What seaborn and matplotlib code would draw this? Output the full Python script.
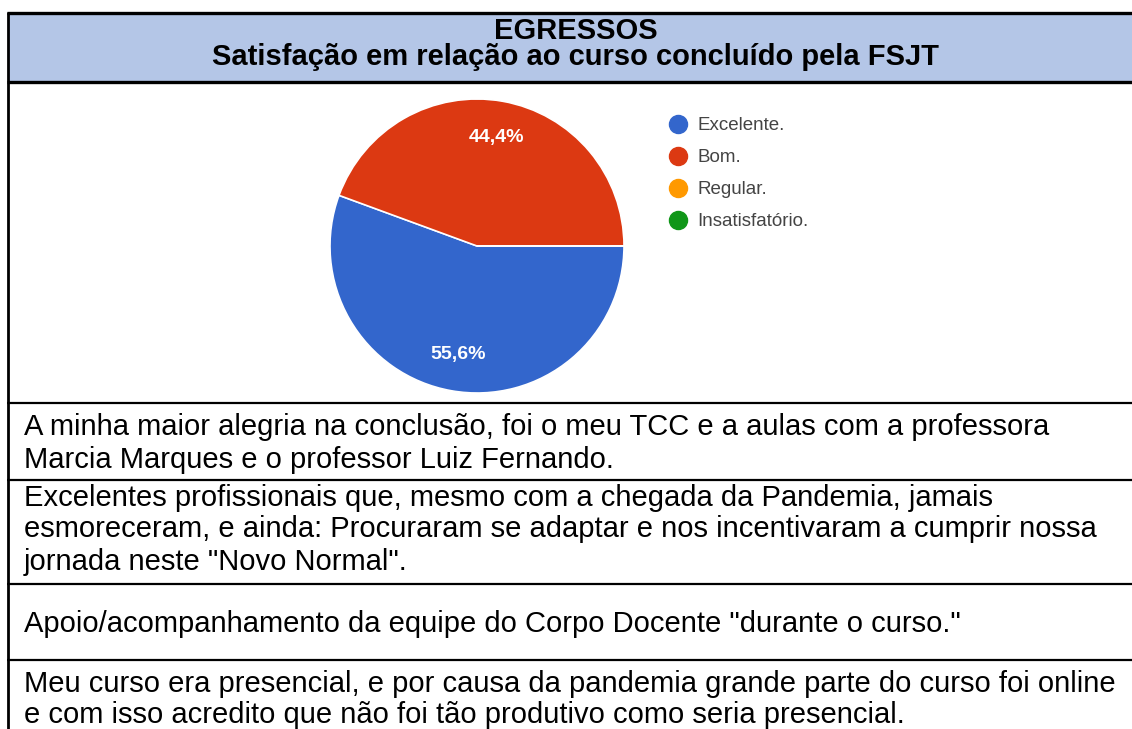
import matplotlib
matplotlib.use("Agg")
import matplotlib.pyplot as plt
from matplotlib.lines import Line2D
import seaborn as sns

# ------------------------------------------------------------
# DATA
# ------------------------------------------------------------

categories = ["Excelente.", "Bom.", "Regular.", "Insatisfatório."]
values = [55.6, 44.4, 0.0, 0.0]

header_title = "EGRESSOS"
header_subtitle = "Satisfação em relação ao curso concluído pela FSJT"

comments = [
    ["A minha maior alegria na conclusão, foi o meu TCC e a aulas com a professora",
     "Marcia Marques e o professor Luiz Fernando."],
    ["Excelentes profissionais que, mesmo com a chegada da Pandemia, jamais",
     "esmoreceram, e ainda: Procuraram se adaptar e nos incentivaram a cumprir nossa",
     "jornada neste \"Novo Normal\"."],
    ["Apoio/acompanhamento da equipe do Corpo Docente \"durante o curso.\""],
    ["Meu curso era presencial, e por causa da pandemia grande parte do curso foi online",
     "e com isso acredito que não foi tão produtivo como seria presencial."],
]

# ------------------------------------------------------------
# STYLE
# ------------------------------------------------------------

sns.set_theme(style="white")
plt.rcParams["font.family"] = ["Liberation Sans", "DejaVu Sans"]

palette = sns.color_palette(["#3366cc", "#dc3912", "#ff9900", "#109618"])

W, H = 1132, 729
fig = plt.figure(figsize=(W / 100, H / 100), dpi=100)

# ------------------------------------------------------------
# TABLE FRAME (pixel coordinates)
# ------------------------------------------------------------

bg = fig.add_axes([0, 0, 1, 1])
bg.set_xlim(0, W)
bg.set_ylim(H, 0)
bg.axis("off")

left = 8
bg.fill_between([left, W], 13, 82, color="#b4c6e7", lw=0, zorder=0)

for y, lw in [(13, 2.4), (82, 2.4), (403, 1.6), (480, 1.6), (584, 1.6), (660, 1.6)]:
    bg.plot([left - 1, W], [y, y], color="black", lw=lw, solid_capstyle="butt")
bg.plot([left, left], [12, H], color="black", lw=2.0, solid_capstyle="butt")

bg.text(576, 39, header_title, ha="center", va="baseline",
        fontsize=21, fontweight="bold", color="black")
bg.text(576, 65, header_subtitle, ha="center", va="baseline",
        fontsize=21, fontweight="bold", color="black")

baselines = [[435, 468], [506, 537, 570], [632], [692, 723]]
for lines, ys in zip(comments, baselines):
    for line, y in zip(lines, ys):
        bg.text(24, y, line, ha="left", va="baseline",
                fontsize=21, color="black")

# ------------------------------------------------------------
# PIE
# ------------------------------------------------------------

cx, cy, r = 477, 246, 147
ax = fig.add_axes([(cx - r) / W, 1 - (cy + r) / H, 2 * r / W, 2 * r / H])


def pct(p):
    return "" if p < 0.05 else f"{p:.1f}%".replace(".", ",")


wedges, texts, autotexts = ax.pie(
    values,
    colors=palette,
    startangle=0,
    counterclock=False,
    autopct=pct,
    pctdistance=0.75,
    wedgeprops={"edgecolor": "white", "linewidth": 1.2},
    textprops={"color": "white", "fontsize": 14, "fontweight": "bold"},
)
ax.set_xlim(-1.0, 1.0)
ax.set_ylim(-1.0, 1.0)

# ------------------------------------------------------------
# LEGEND
# ------------------------------------------------------------

handles = [
    Line2D([0], [0], marker="o", linestyle="none", markersize=13,
           markerfacecolor=c, markeredgecolor=c)
    for c in palette
]
fig.legend(
    handles, categories,
    loc="upper left",
    bbox_to_anchor=(669 / W, 1 - 117 / H),
    frameon=False,
    fontsize=13.5,
    labelcolor="#444444",
    handlelength=1.0,
    handletextpad=0.5,
    labelspacing=0.8,
    borderpad=0,
    borderaxespad=0,
)

plt.savefig("out.png", dpi=100)
